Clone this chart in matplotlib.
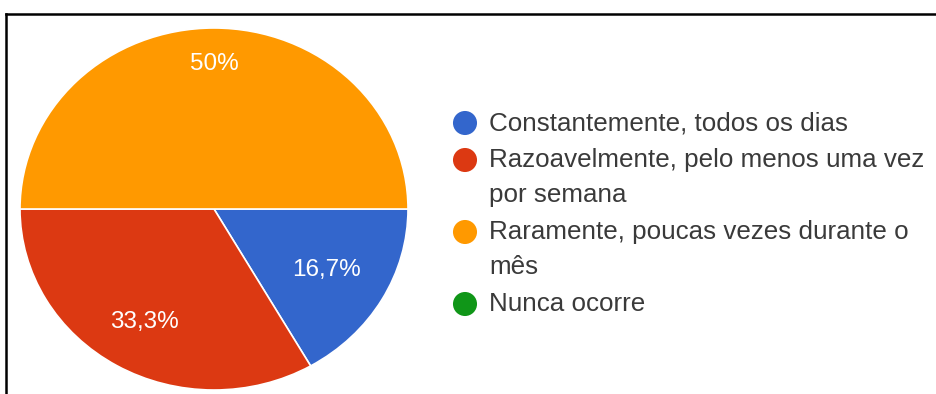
import numpy as np
import matplotlib.pyplot as plt
from matplotlib.lines import Line2D

# Frequência das respostas
categorias = [
    "Constantemente, todos os dias",
    "Razoavelmente, pelo menos uma vez\npor semana",
    "Raramente, poucas vezes durante o\nmês",
    "Nunca ocorre",
]
percentuais = [16.7, 33.3, 50.0, 0.0]
cores = ["#3366cc", "#dc3912", "#ff9900", "#109618"]

W, H = 937, 394
fig = plt.figure(figsize=(W / 100, H / 100), dpi=100)
fig.patch.set_facecolor("white")

# pie area (pixel box), slightly wider than tall
cx, cy, rx, ry = 214, 209, 194, 181
ax = fig.add_axes([(cx - rx) / W, 1 - (cy + ry) / H, 2 * rx / W, 2 * ry / H])

valores = [v for v in percentuais if v > 0]
cores_pie = [c for v, c in zip(percentuais, cores) if v > 0]
wedges, _ = ax.pie(valores, colors=cores_pie, startangle=0, counterclock=False,
                   radius=1, wedgeprops=dict(edgecolor="white", linewidth=1.2))
ax.set_aspect("auto")
ax.set_xlim(-1, 1)
ax.set_ylim(-1, 1)
ax.axis("off")

# percentage labels inside each slice
dist = [0.67, 0.72, 0.80]
for w, v, d in zip(wedges, valores, dist):
    ang = np.deg2rad((w.theta1 + w.theta2) / 2)
    txt = f"{v:.1f}".replace(".", ",").replace(",0", "") + "%"
    ax.text(d * np.cos(ang), d * np.sin(ang), txt, ha="center", va="center",
            color="white", fontsize=17.5, family="Liberation Sans")

# legend drawn on a full-figure overlay in pixel units
lg = fig.add_axes([0, 0, 1, 1])
lg.set_xlim(0, W)
lg.set_ylim(H, 0)
lg.axis("off")
y = 123
for cat, cor in zip(categorias, cores):
    lg.scatter([465], [y], s=300, color=cor, edgecolors="none")
    linhas = cat.split("\n")
    for i, linha in enumerate(linhas):
        lg.text(489, y + i * 35, linha, ha="left", va="center",
                color="#3a3a3a", fontsize=18.7, family="Liberation Sans")
    y += (len(linhas) - 1) * 35 + 37

# frame lines on top and left
lg.add_line(Line2D([6, W], [14, 14], color="black", lw=1.8))
lg.add_line(Line2D([6, 6], [14, H], color="black", lw=1.8))

fig.savefig("out.png", dpi=100)
